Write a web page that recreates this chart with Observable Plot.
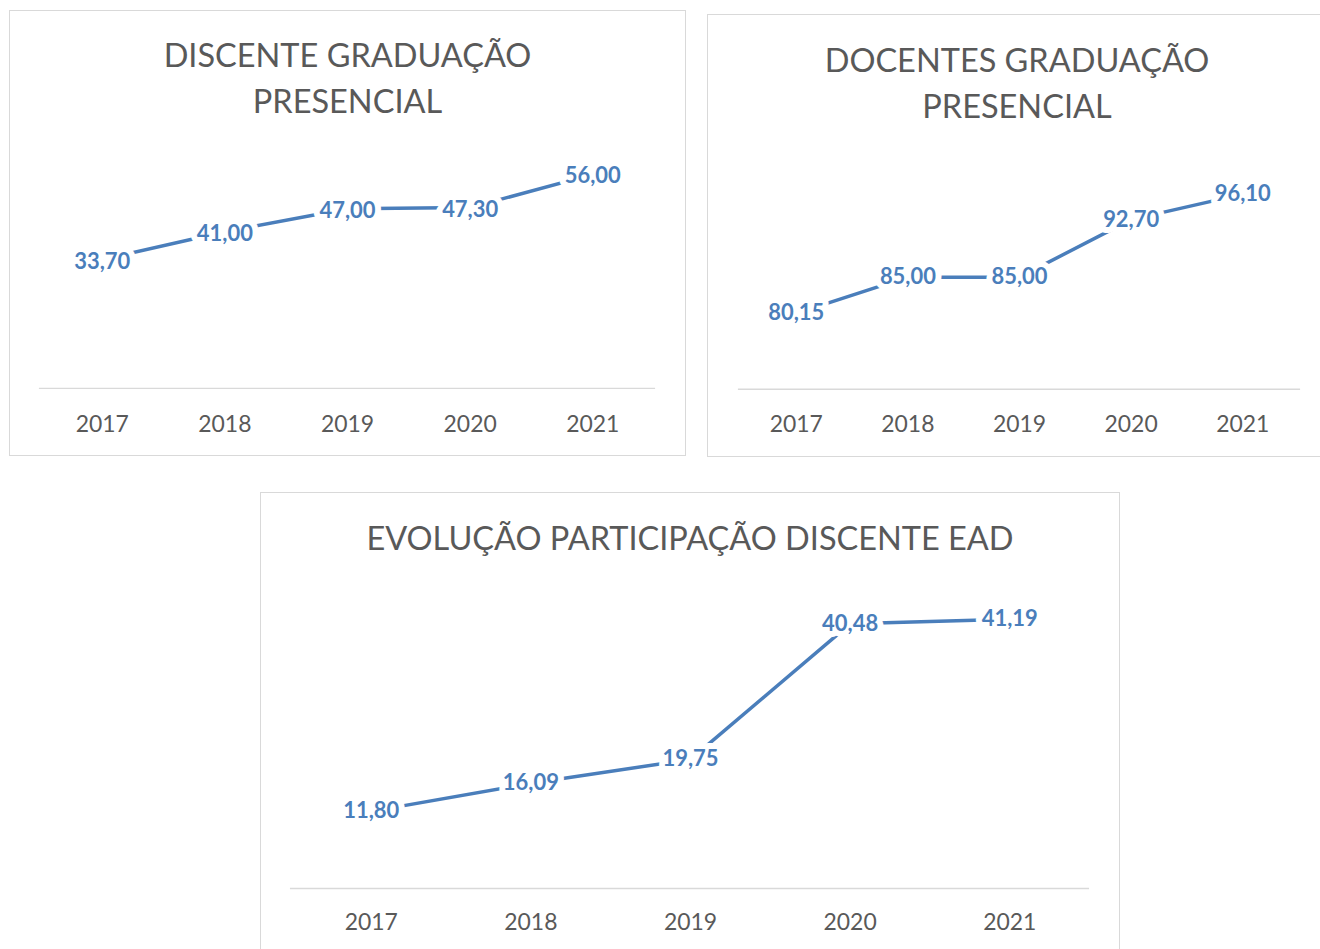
<!DOCTYPE html>
<html>
<head>
<meta charset="utf-8">
<script src="https://cdn.jsdelivr.net/npm/d3@7"></script>
<script src="https://cdn.jsdelivr.net/npm/@observablehq/plot@0.6"></script>
<style>
  html, body { margin:0; padding:0; background:#fff; width:1320px; height:949px; overflow:hidden; }
  .panel { position:absolute; border:1.5px solid #d9d9d9; background:#fff; box-sizing:border-box; overflow:hidden; }
  .title { position:absolute; left:0; right:0; text-align:center; color:#595959; font-family:Lato, "Open Sans", sans-serif; font-size:32.5px; line-height:46px; white-space:nowrap; }
  .panel svg { position:absolute; left:0; top:0; }
</style>
</head>
<body>
<div id="p1" class="panel" style="left:9px; top:10px; width:677px; height:446px;"><div class="title" style="top:21px;">DISCENTE GRADUAÇÃO<br>PRESENCIAL</div></div>
<div id="p2" class="panel" style="left:707px; top:14px; width:620px; height:443px;"><div class="title" style="top:22px;">DOCENTES GRADUAÇÃO<br>PRESENCIAL</div></div>
<div id="p3" class="panel" style="left:260px; top:492px; width:860px; height:470px;"><div class="title" style="top:22px;">EVOLUÇÃO PARTICIPAÇÃO DISCENTE EAD</div></div>
<script>
const years = ["2017", "2018", "2019", "2020", "2021"];
const discentePresencial = [33.70, 41.00, 47.00, 47.30, 56.00];
const docentesPresencial = [80.15, 85.00, 85.00, 92.70, 96.10];
const discenteEad = [11.80, 16.09, 19.75, 40.48, 41.19];

const locale = d3.formatLocale({decimal: ",", thousands: ".", grouping: [3], currency: ["", ""]});
const fmt = locale.format(".2f");

function makeChart(values, o) {
  const data = years.map((year, i) => ({year, value: values[i]}));
  return Plot.plot({
    width: o.width, height: o.height,
    marginTop: o.mt, marginBottom: o.mb, marginLeft: o.ml, marginRight: o.mr,
    x: {type: "point", domain: years, padding: 0.5, label: null},
    y: {domain: o.domain, axis: null},
    style: {fontFamily: "Lato, 'Open Sans', sans-serif", background: "transparent", overflow: "visible"},
    marks: [
      Plot.ruleY([o.domain[0]], {stroke: "#d9d9d9", strokeWidth: 1.5}),
      Plot.axisX({tickSize: 0, tickPadding: o.tp, fontSize: 23, color: "#595959", label: null}),
      Plot.line(data, {x: "year", y: "value", stroke: "#4a7ebb", strokeWidth: 3.5}),
      Plot.text(data, {x: "year", y: "value", text: d => fmt(d.value), fill: "#4a7ebb", fontWeight: "bold", fontSize: 22,
        dy: o.dy, stroke: "white", strokeWidth: 12, paintOrder: "stroke", strokeLinejoin: "round"})
    ]
  });
}

document.getElementById("p1").appendChild(makeChart(discentePresencial,
  {width: 677, height: 446, mt: 148, mb: 68, ml: 29, mr: 30, domain: [0, 60], tp: 27, dy: 2}));
document.getElementById("p2").appendChild(makeChart(docentesPresencial,
  {width: 620, height: 443, mt: 150, mb: 68, ml: 30, mr: 26, domain: [70, 100], tp: 27, dy: 0}));
document.getElementById("p3").appendChild(makeChart(discenteEad,
  {width: 860, height: 470, mt: 101, mb: 74, ml: 29, mr: 30, domain: [0, 45], tp: 25, dy: 0}));
</script>
</body>
</html>
